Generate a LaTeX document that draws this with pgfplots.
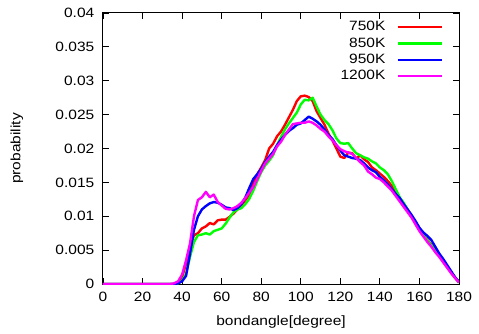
\documentclass[border=0pt]{standalone}
\usepackage{pgfplots}
\usepackage{pgfplotstable}
\pgfplotsset{compat=1.18}
\usepackage{fontspec}
\setmainfont{Liberation Sans}[FakeStretch=1.15]
\definecolor{cred}{RGB}{255,0,0}
\definecolor{cgreen}{RGB}{0,255,0}
\definecolor{cblue}{RGB}{0,0,255}
\definecolor{cmag}{RGB}{255,0,255}

\pgfplotstableread{
x r g b m
0 0 0 0 0
2 0 0 0 0
4 0 0 0 0
6 0 0 0 0
8 0 0 0 0
10 0 0 0 0
12 0 0 0 0
14 0 0 0 0
16 0 0 0 0
18 0 0 0 0
20 0 0 0 0
22 0 0 0 0
24 0 0 0 0
26 0 0 0 0
28 0 0 0 0
30 0 0 0 0
32 0 0 0 0
34 0 0 0 0
36 0 0 0 0.0001
38 0.0002 0.0001 0.0001 0.0004
40 0.0010 0.0005 0.0004 0.0014
42 0.0030 0.0015 0.0012 0.0035
44 0.0055 0.0040 0.0045 0.0060
46 0.0072 0.0062 0.0080 0.0100
48 0.0075 0.0072 0.0100 0.0124
50 0.0082 0.0073 0.0110 0.0128
52 0.0085 0.0075 0.0115 0.0136
54 0.0090 0.0073 0.0119 0.0128
56 0.0088 0.0078 0.0121 0.0132
58 0.0094 0.0080 0.0120 0.0121
60 0.0095 0.0082 0.0117 0.0116
62 0.0095 0.0089 0.0113 0.0111
64 0.0099 0.0098 0.0112 0.0110
66 0.0104 0.0106 0.0109 0.0112
68 0.0110 0.0110 0.0112 0.0115
70 0.0116 0.0112 0.0118 0.0120
72 0.0124 0.0118 0.0128 0.0127
74 0.0132 0.0126 0.0142 0.0135
76 0.0150 0.0138 0.0155 0.0143
78 0.0162 0.0152 0.0162 0.0155
80 0.0172 0.0165 0.0170 0.0167
82 0.0183 0.0175 0.0180 0.0178
84 0.0200 0.0182 0.0188 0.0185
86 0.0207 0.0190 0.0195 0.0192
88 0.0218 0.0205 0.0205 0.0203
90 0.0225 0.0217 0.0213 0.0210
92 0.0235 0.0228 0.0220 0.0220
94 0.0246 0.0237 0.0226 0.0228
96 0.0257 0.0245 0.0230 0.0236
98 0.0270 0.0253 0.0235 0.0237
100 0.0277 0.0265 0.0237 0.0238
102 0.0278 0.0272 0.0242 0.0238
104 0.0276 0.0271 0.0247 0.0240
106 0.0270 0.0275 0.0244 0.0238
108 0.0255 0.0262 0.0240 0.0234
110 0.0245 0.0250 0.0235 0.0229
112 0.0235 0.0242 0.0228 0.0225
114 0.0222 0.0236 0.0220 0.0218
116 0.0212 0.0227 0.0214 0.0212
118 0.0200 0.0215 0.0205 0.0205
120 0.0188 0.0208 0.0197 0.0199
122 0.0186 0.0207 0.0190 0.0196
124 0.0194 0.0208 0.0188 0.0194
126 0.0193 0.0200 0.0186 0.0192
128 0.0185 0.0193 0.0185 0.0186
130 0.0190 0.0190 0.0183 0.0180
132 0.0184 0.0187 0.0178 0.0175
134 0.0180 0.0185 0.0172 0.0166
136 0.0172 0.0181 0.0168 0.0162
138 0.0168 0.0178 0.0165 0.0157
140 0.0163 0.0172 0.0158 0.0155
142 0.0158 0.0168 0.0153 0.0150
144 0.0152 0.0162 0.0147 0.0144
146 0.0145 0.0152 0.0140 0.0138
148 0.0136 0.0140 0.0133 0.0130
150 0.0126 0.0128 0.0127 0.0122
152 0.0118 0.0120 0.0118 0.0114
154 0.0110 0.0110 0.0110 0.0106
156 0.0100 0.0100 0.0102 0.0098
158 0.0090 0.0090 0.0093 0.0088
160 0.0080 0.0080 0.0083 0.0078
162 0.0072 0.0072 0.0076 0.0070
164 0.0065 0.0064 0.0071 0.0062
166 0.0058 0.0057 0.0065 0.0055
168 0.0050 0.0050 0.0055 0.0047
170 0.0042 0.0042 0.0045 0.0040
172 0.0033 0.0034 0.0037 0.0032
174 0.0025 0.0026 0.0028 0.0024
176 0.0017 0.0018 0.0019 0.0016
178 0.0009 0.0010 0.0010 0.0009
180 0.0003 0.0002 0.0003 0.0002
}\datatable

\begin{document}
\fontsize{13.5bp}{15.5bp}\selectfont
\begin{tikzpicture}
\useasboundingbox (-103bp,-50bp) rectangle (376bp,284bp);
\begin{axis}[
  at={(0,0)}, anchor=south west,
  scale only axis, width=356bp, height=271bp,
  xmin=0, xmax=180, ymin=0, ymax=0.04,
  xtick={0,20,...,180},
  ytick={0,0.005,0.01,0.015,0.02,0.025,0.03,0.035,0.04},
  yticklabels={0,0.005,0.01,0.015,0.02,0.025,0.03,0.035,0.04},
  scaled y ticks=false,
  tick align=inside, major tick length=6bp,
  tick style={black, line width=0.8bp},
  axis line style={black, line width=1bp},
  /pgf/number format/assume math mode=true,
  tick label style={font=\fontsize{13.5bp}{15.5bp}\selectfont},
  label style={font=\fontsize{13.5bp}{15.5bp}\selectfont},
  xlabel={bondangle[degree]},
  ylabel={probability},
  xlabel style={at={(axis description cs:0.5,0)}, anchor=center, yshift=-38bp},
  ylabel style={at={(axis description cs:-0.2416,0.5)}, anchor=center, rotate=0},
  xticklabel style={yshift=-3bp},
  yticklabel style={xshift=-4bp},
  legend style={draw=none, fill=none, at={(1,1)}, anchor=north east,
    xshift=-16bp, yshift=-6bp, inner sep=0pt, row sep=1bp, column sep=9bp,
    font=\fontsize{13.5bp}{15.5bp}\selectfont},
  legend plot pos=right,
  legend cell align=right,
  legend image code/.code={\draw[#1] (0bp,0bp) -- (44bp,0bp);},
  every axis plot/.append style={line width=2.4bp, line join=round},
]
\addplot[cred, no markers] table[x=x, y=r] {\datatable};
\addlegendentry{750K}
\addplot[cgreen, no markers] table[x=x, y=g] {\datatable};
\addlegendentry{850K}
\addplot[cblue, no markers] table[x=x, y=b] {\datatable};
\addlegendentry{950K}
\addplot[cmag, no markers] table[x=x, y=m] {\datatable};
\addlegendentry{1200K}
\end{axis}
\end{tikzpicture}
\end{document}
